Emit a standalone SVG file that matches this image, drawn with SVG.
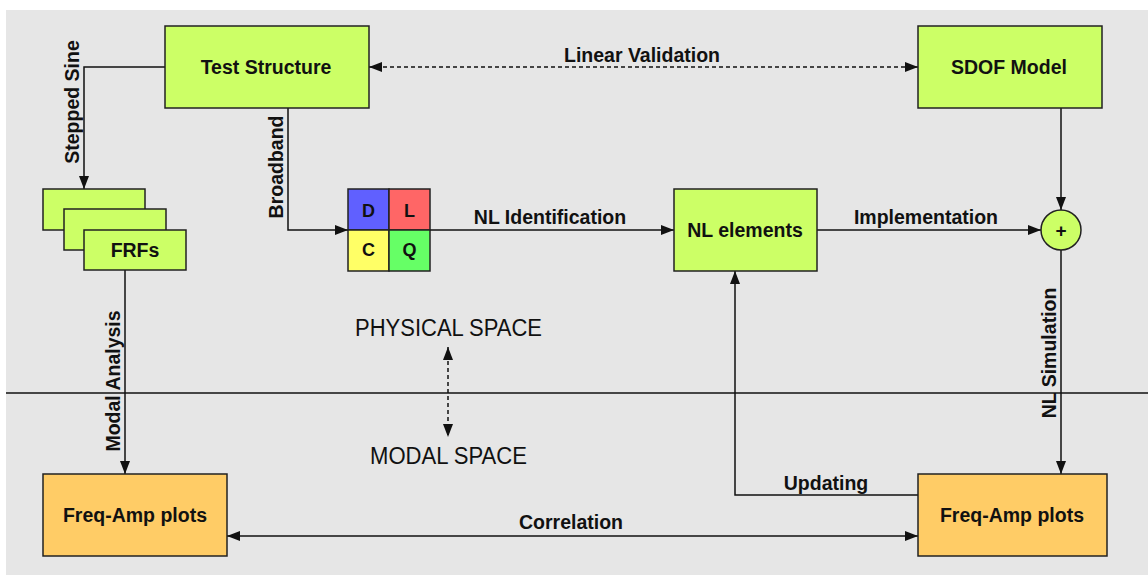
<svg xmlns="http://www.w3.org/2000/svg" width="1148" height="575" viewBox="0 0 1148 575">
<defs>
<style>
.bg{fill:#e6e6e6}
.box{stroke:#222;stroke-width:1.5}
.g{fill:#ccff66}
.o{fill:#ffcc66}
.lbl{font-family:"Liberation Sans",Arial,sans-serif;font-weight:bold;font-size:19.5px;fill:#111;text-anchor:middle}
.cell{font-family:"Liberation Sans",Arial,sans-serif;font-weight:bold;font-size:18px;fill:#111;text-anchor:middle}
.space{font-family:"Liberation Sans",Arial,sans-serif;font-size:23.5px;fill:#111;text-anchor:middle}
.ln{fill:none;stroke:#111;stroke-width:1.5}
.dash{stroke-dasharray:4 3}
</style>
<marker id="ah" markerUnits="userSpaceOnUse" markerWidth="14" markerHeight="11" refX="13" refY="5" orient="auto-start-reverse">
<path d="M0,0 L13,5 L0,10 z" fill="#111"/>
</marker>
</defs>
<rect class="bg" x="6" y="10" width="1142" height="565"/>
<line x1="6" y1="393" x2="1148" y2="393" stroke="#111" stroke-width="1.5"/>

<g id="connectors">
<path class="ln" d="M165,67 H84 V189" marker-end="url(#ah)"/>
<path class="ln" d="M288,108 V230 H348" marker-end="url(#ah)"/>
<path class="ln" d="M430,230 H674" marker-end="url(#ah)"/>
<path class="ln" d="M817,230 H1041" marker-end="url(#ah)"/>
<path class="ln" d="M1061,108 V210" marker-end="url(#ah)"/>
<path class="ln" d="M1061,250 V474" marker-end="url(#ah)"/>
<path class="ln" d="M125,270 V474" marker-end="url(#ah)"/>
<path class="ln" d="M918,495 H735 V271" marker-end="url(#ah)"/>
<path class="ln" d="M227,536 H918" marker-start="url(#ah)" marker-end="url(#ah)"/>
<path class="ln dash" d="M369,67 H918" marker-start="url(#ah)" marker-end="url(#ah)"/>
<path class="ln dash" d="M448,347 V437" marker-start="url(#ah)" marker-end="url(#ah)"/>
<text class="lbl" transform="translate(79,102) rotate(-90)">Stepped Sine</text>
<text class="lbl" transform="translate(283,167) rotate(-90)">Broadband</text>
<text class="lbl" transform="translate(120,381) rotate(-90)">Modal Analysis</text>
<text class="lbl" transform="translate(1056,353) rotate(-90)">NL Simulation</text>
<text class="lbl" x="642" y="62">Linear Validation</text>
<text class="lbl" x="550" y="224">NL Identification</text>
<text class="lbl" x="926" y="224">Implementation</text>
<text class="lbl" x="826" y="490">Updating</text>
<text class="lbl" x="571" y="529">Correlation</text>
</g>

<g id="test-structure">
<rect class="box g" x="165" y="26" width="204" height="82"/>
<text class="lbl" x="266" y="74">Test Structure</text>
</g>
<g id="sdof-model">
<rect class="box g" x="918" y="26" width="184" height="82"/>
<text class="lbl" x="1009" y="74">SDOF Model</text>
</g>
<g id="frfs">
<rect class="box g" x="43" y="189" width="102" height="41"/>
<rect class="box g" x="64" y="209" width="102" height="41"/>
<rect class="box g" x="84" y="230" width="102" height="40"/>
<text class="lbl" x="135" y="257">FRFs</text>
</g>
<g id="dlcq">
<rect class="box" x="348" y="189" width="41" height="41" fill="#6060ff"/>
<rect class="box" x="389" y="189" width="41" height="41" fill="#ff6666"/>
<rect class="box" x="348" y="230" width="41" height="41" fill="#ffff66"/>
<rect class="box" x="389" y="230" width="41" height="41" fill="#66ff66"/>
<text class="cell" x="368.5" y="217">D</text>
<text class="cell" x="409.5" y="217">L</text>
<text class="cell" x="368.5" y="256">C</text>
<text class="cell" x="409.5" y="256">Q</text>
</g>
<g id="nl-elements">
<rect class="box g" x="674" y="189" width="143" height="82"/>
<text class="lbl" x="745" y="237">NL elements</text>
</g>
<g id="sum">
<circle class="box g" cx="1061" cy="230" r="20"/>
<text class="cell" x="1061" y="237" style="font-size:19px">+</text>
</g>
<g id="freq-amp-left">
<rect class="box o" x="43" y="474" width="184" height="82"/>
<text class="lbl" x="135" y="522">Freq-Amp plots</text>
</g>
<g id="freq-amp-right">
<rect class="box o" x="918" y="474" width="189" height="82"/>
<text class="lbl" x="1012" y="522">Freq-Amp plots</text>
</g>
<g id="spaces">
<text class="space" x="448.5" y="336" textLength="187" lengthAdjust="spacingAndGlyphs">PHYSICAL SPACE</text>
<text class="space" x="448.5" y="464" textLength="157" lengthAdjust="spacingAndGlyphs">MODAL SPACE</text>
</g>
</svg>
